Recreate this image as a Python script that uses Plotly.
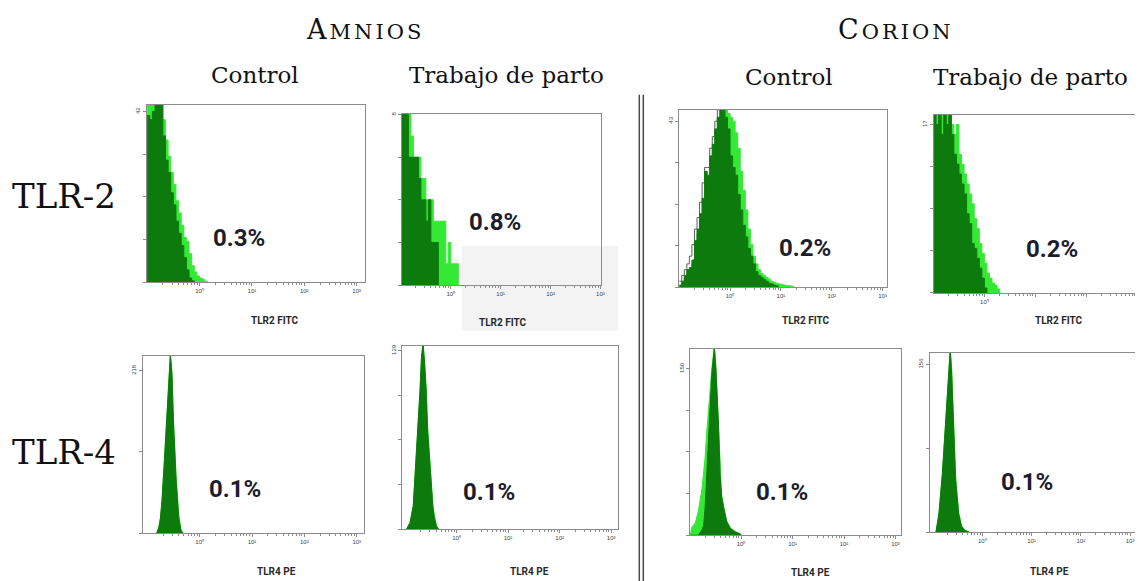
import plotly.graph_objects as go

W, H = 1138, 581

# ---------------- data (log10 fluorescence channel positions, event counts) ----------------
TLR2_LOG_X = [-1.0, -0.95, -0.9, -0.85, -0.8, -0.75, -0.7, -0.65, -0.6, -0.55,
              -0.5, -0.45, -0.4, -0.35, -0.3, -0.25, -0.2, -0.15, -0.1, -0.05,
              0.0, 0.05, 0.1, 0.15, 0.2, 0.25, 0.3, 0.35, 0.4, 0.45,
              0.5, 0.55, 0.6, 0.65, 0.7, 0.75, 0.8, 0.85, 0.9, 0.95,
              1.0, 1.05, 1.1, 1.15, 1.2, 1.25]

# Amnios control, TLR-2
AMN_CTRL_TLR2_STAIN = [44, 47, 45, 48, 50, 46, 40, 35, 31, 27, 24, 20, 17, 14, 11, 10, 7, 4, 2.5, 1.5, 1, 0.6, 0.2, 0]
AMN_CTRL_TLR2_ISO = [41, 40, 42, 45, 47, 46, 36, 30, 27, 22, 19, 15, 12, 9, 6, 3, 1, 0.3, 0]
# Amnios trabajo de parto, TLR-2
AMN_TP_TLR2_STAIN = [9, 10, 10, 9, 7, 6, 6, 6, 5, 5, 4, 4, 4, 3, 3, 3, 3, 3, 1, 2, 1, 1, 1, 0]
AMN_TP_TLR2_ISO = [9, 10, 8, 6, 6, 6, 6, 5, 4, 4, 3, 4, 2, 2, 2, 0]
# Corion control, TLR-2
COR_CTRL_TLR2_STAIN = [0.3, 1, 2.5, 4, 5, 6, 10, 14, 18, 22, 27, 28, 32, 36, 40, 44, 48, 46, 47, 45,
                       44, 43, 40, 36, 30, 25, 20, 15, 11, 8, 6, 4.5, 3.5, 3, 2.5, 2, 1.5, 1.2, 1.0, 0.8,
                       0.6, 0.5, 0.4, 0.3, 0.2, 0]
COR_CTRL_TLR2_ISO = [0.5, 1.5, 3, 4.5, 5, 7, 12, 15, 19, 23, 30, 29, 34, 37, 41, 44, 48, 47, 44, 41,
                     34, 31, 29, 24, 20, 16, 13, 10, 8, 6, 4, 3, 2.5, 2, 1.5, 1, 0.8, 0.5, 0.3, 0]
COR_CTRL_TLR2_NEG = [1.5, 3, 4.5, 6, 8, 11, 15, 18, 22, 27, 31, 31, 36, 39, 43, 46, 48]
# Corion trabajo de parto, TLR-2
COR_TP_TLR2_STAIN = [17, 19, 18, 19, 17, 19, 18, 17, 16, 17, 14, 13, 12, 11, 10, 9, 7.5, 6.5, 5, 4,
                     3, 2, 1.5, 1, 0.8, 0.4, 0]
COR_TP_TLR2_ISO = [19, 17, 19, 16, 18, 17, 19, 16, 14, 13, 12, 11, 10, 8, 7, 5, 4.5, 3.5, 2.5, 1.5, 0.5, 0]

# TLR-4 panels (log10 positions read per panel)
AMN_CTRL_TLR4_LOG_X = [-0.82, -0.78, -0.75, -0.72, -0.67, -0.62, -0.59, -0.56, -0.53, -0.50, -0.45, -0.40, -0.36, -0.32]
AMN_CTRL_TLR4_STAIN = [0, 8, 20, 44, 102, 168, 215, 240, 216, 152, 76, 25, 6, 0]
AMN_CTRL_TLR4_ISO = [0, 8, 20, 44, 102, 168, 215, 240, 214, 147, 71, 21, 4, 0]

AMN_TP_TLR4_LOG_X = [-0.97, -0.90, -0.84, -0.81, -0.78, -0.74, -0.71, -0.68, -0.65, -0.62, -0.59, -0.56,
                     -0.52, -0.49, -0.46, -0.43, -0.39, -0.35]
AMN_TP_TLR4_STAIN = [0, 5, 17, 35, 60, 76, 100, 125, 134, 121, 102, 73, 48, 31, 18, 10, 3, 0]
AMN_TP_TLR4_ISO = [0, 5, 17, 35, 60, 76, 100, 125, 134, 120, 100, 70, 45, 28, 16, 8, 2, 0]

COR_CTRL_TLR4_LOG_X = [-0.99, -0.96, -0.89, -0.83, -0.76, -0.73, -0.70, -0.67, -0.63, -0.60, -0.57, -0.54,
                       -0.52, -0.49, -0.47, -0.44, -0.41, -0.38, -0.34, -0.28, -0.21, -0.12, -0.02, 0.01]
COR_CTRL_TLR4_STAIN = [0, 7, 11, 22, 42, 55, 70, 92, 112, 132, 150, 165, 170, 152, 132, 102, 58, 37, 26, 13, 7, 3.5, 1.2, 0]
COR_CTRL_TLR4_ISO = [0, 0, 0, 0, 5, 8, 25, 55, 85, 115, 145, 160, 170, 150, 130, 100, 55, 35, 25, 12, 6, 3, 1, 0]

COR_TP_TLR4_LOG_X = [-0.94, -0.88, -0.81, -0.75, -0.69, -0.65, -0.62, -0.58, -0.54, -0.48, -0.42, -0.35, -0.26]
COR_TP_TLR4_STAIN = [0, 17, 54, 100, 142, 170, 152, 106, 52, 19, 6, 2, 0]
COR_TP_TLR4_ISO = [0, 17, 54, 100, 140, 170, 146, 100, 48, 17, 5, 1.5, 0]

PERCENTS = ["0.3%", "0.8%", "0.2%", "0.2%", "0.1%", "0.1%", "0.1%", "0.1%"]
Y_MAX_LABELS = [42, 8, 43, 17, 218, 129, 150, 156]
X_TICK_TEXT = ["10⁰", "10¹", "10²", "10³"]

# ---------------- styling / layout ----------------
LIGHT = "#36e836"
DARK = "#0c7a0c"
BOX = "#8c8c8c"

panels = [
    dict(box=(147, 366, 103, 281), xr=(-1.01, 3.16), ymax=43.7, nt=4, shape="hv",
         logx=TLR2_LOG_X, stain=AMN_CTRL_TLR2_STAIN, iso=AMN_CTRL_TLR2_ISO,
         pct=(240, 237), title="TLR2 FITC", tpos=(276, 320)),
    dict(box=(403, 603, 112, 284), xr=(-0.98, 3.02), ymax=8.05, nt=4, shape="hv",
         logx=TLR2_LOG_X, stain=AMN_TP_TLR2_STAIN, iso=AMN_TP_TLR2_ISO,
         pct=(496, 221), title="TLR2 FITC", tpos=(504, 322)),
    dict(box=(681, 889, 108, 286), xr=(-1.0, 3.08), ymax=46, nt=4, shape="hv",
         logx=TLR2_LOG_X, stain=COR_CTRL_TLR2_STAIN, iso=COR_CTRL_TLR2_ISO, neg=COR_CTRL_TLR2_NEG,
         pct=(807, 247), title="TLR2 FITC", tpos=(808, 320)),
    dict(box=(936, 1138, 113, 292), xr=(-1.0, 2.96), ymax=18, nt=4, shape="hv", cut=True,
         logx=TLR2_LOG_X, stain=COR_TP_TLR2_STAIN, iso=COR_TP_TLR2_ISO,
         pct=(1055, 248), title="TLR2 FITC", tpos=(1062, 320), xt=["10⁰", "", "", ""]),
    dict(box=(143, 365, 355, 533), xr=(-1.09, 3.14), ymax=238, nt=2, shape="linear",
         logx=AMN_CTRL_TLR4_LOG_X, stain=AMN_CTRL_TLR4_STAIN, iso=AMN_CTRL_TLR4_ISO,
         pct=(236, 489), title="TLR4 PE", tpos=(277, 571)),
    dict(box=(403, 620, 345, 529), xr=(-1.06, 3.14), ymax=132.6, nt=4, shape="linear",
         logx=AMN_TP_TLR4_LOG_X, stain=AMN_TP_TLR4_STAIN, iso=AMN_TP_TLR4_ISO,
         pct=(490, 492), title="TLR4 PE", tpos=(531, 571)),
    dict(box=(692, 903, 348, 535), xr=(-0.99, 3.1), ymax=168, nt=4, shape="linear",
         logx=COR_CTRL_TLR4_LOG_X, stain=COR_CTRL_TLR4_STAIN, iso=COR_CTRL_TLR4_ISO,
         pct=(784, 492), title="TLR4 PE", tpos=(813, 572)),
    dict(box=(932, 1138, 352, 532), xr=(-1.07, 3.1), ymax=166.8, nt=2, shape="linear", cut=True,
         logx=COR_TP_TLR4_LOG_X, stain=COR_TP_TLR4_STAIN, iso=COR_TP_TLR4_ISO,
         pct=(1030, 482), title="TLR4 PE", tpos=(1052, 571)),
]

MINOR = [m * d for d in (0.1, 1, 10, 100) for m in range(2, 10)]

fig = go.Figure()
layout = {}
annotations = []


def px(x):
    return x / W


def py(y):
    return 1 - y / H


for k, p in enumerate(panels, start=1):
    sfx = "" if k == 1 else str(k)
    xa, ya = "x" + sfx, "y" + sfx
    lx = p["logx"]

    def xs(vals):
        return [10 ** v for v in lx[:len(vals)]]

    fig.add_trace(go.Scatter(x=xs(p["stain"]), y=p["stain"], mode="lines",
                             line=dict(color=LIGHT, width=1, shape=p["shape"]),
                             fill="tozeroy", fillcolor=LIGHT, xaxis=xa, yaxis=ya,
                             hoverinfo="skip", showlegend=False))
    if "neg" in p:
        fig.add_trace(go.Scatter(x=xs(p["neg"]), y=p["neg"], mode="lines",
                                 line=dict(color="#5e5e5e", width=1, shape=p["shape"]),
                                 xaxis=xa, yaxis=ya, hoverinfo="skip", showlegend=False))
    fig.add_trace(go.Scatter(x=xs(p["iso"]), y=p["iso"], mode="lines",
                             line=dict(color=DARK, width=1, shape=p["shape"]),
                             fill="tozeroy", fillcolor=DARK, xaxis=xa, yaxis=ya,
                             hoverinfo="skip", showlegend=False))

    x0, x1, y0, y1 = p["box"]
    lab = Y_MAX_LABELS[k - 1]
    n = p["nt"]
    yt = [lab * i / n for i in range(n + 1)]
    ytt = [""] * n + [str(lab)]
    layout["xaxis" + sfx] = dict(
        type="log", range=list(p["xr"]), domain=[px(x0), min(px(x1), 1.0)], anchor=ya,
        showgrid=False, zeroline=False, showline=True, linecolor=BOX, linewidth=1,
        mirror=True, ticks="outside", ticklen=3, tickcolor=BOX,
        tickmode="array", tickvals=[1, 10, 100, 1000], ticktext=p.get("xt", X_TICK_TEXT),
        tickfont=dict(size=6, color="#444", family="Liberation Sans"),
        minor=dict(ticks="outside", ticklen=2, tickcolor=BOX, tickvals=MINOR),
        fixedrange=True)
    layout["yaxis" + sfx] = dict(
        range=[0, p["ymax"]], domain=[py(y1), py(y0)], anchor=xa,
        showgrid=False, zeroline=False, showline=True, linecolor=BOX, linewidth=1,
        mirror=not p.get("cut", False), ticks="outside", ticklen=3, tickcolor=BOX,
        tickmode="array", tickvals=yt, ticktext=ytt, tickangle=-90,
        tickfont=dict(size=6, color="#444", family="Liberation Sans"), fixedrange=True)

    annotations.append(dict(x=px(p["pct"][0]), y=py(p["pct"][1]), xref="paper", yref="paper",
                            text="<b>" + PERCENTS[k - 1] + "</b>", showarrow=False,
                            xanchor="center", yanchor="middle",
                            font=dict(size=24, color="#1d1d2b", family="Roboto, Liberation Sans")))
    annotations.append(dict(x=px(p["tpos"][0]), y=py(p["tpos"][1]), xref="paper", yref="paper",
                            text="<b>" + p["title"] + "</b>", showarrow=False,
                            xanchor="center", yanchor="middle",
                            font=dict(size=10, color="#2a2a2a", family="Roboto, Liberation Sans")))

# headers
SERIF = "DejaVu Serif"
heads = [
    ("A<span style='font-size:21px'>MNIOS</span>", 366, 28, 27),
    ("C<span style='font-size:21px'>ORION</span>", 898, 28, 27),
    ("Control", 256, 73, 23),
    ("Trabajo de parto", 508, 73, 23),
    ("Control", 791, 75, 23),
    ("Trabajo de parto", 1033, 75, 23),
    ("TLR-2", 64, 195, 34),
    ("TLR-4", 64, 452, 34),
]
for txt, x, y, s in heads:
    if txt.startswith(("A<", "C<")):
        txt = "<span style='letter-spacing:3px'>" + txt + "</span>"
    annotations.append(dict(x=px(x), y=py(y), xref="paper", yref="paper", text=txt,
                            showarrow=False, xanchor="center", yanchor="middle",
                            font=dict(size=s, color="#111111", family=SERIF)))

shapes = [
    dict(type="rect", xref="paper", yref="paper", x0=px(463), x1=px(620), y0=py(330), y1=py(245),
         fillcolor="#f3f3f3", line=dict(width=0), layer="below"),
    dict(type="line", xref="paper", yref="paper", x0=px(641), x1=px(641), y0=0, y1=py(93),
         line=dict(color="#4a4a4a", width=1.5)),
    dict(type="line", xref="paper", yref="paper", x0=px(645), x1=px(645), y0=0, y1=py(93),
         line=dict(color="#4a4a4a", width=1.5)),
]

fig.update_layout(width=W, height=H, margin=dict(l=0, r=0, t=0, b=0),
                  paper_bgcolor="white", plot_bgcolor="rgba(0,0,0,0)",
                  showlegend=False, annotations=annotations, shapes=shapes, **layout)
fig.write_html("out.html", config={"displayModeBar": False, "staticPlot": True},
               post_script="document.body.style.margin='0px';document.body.style.overflow='hidden';")
